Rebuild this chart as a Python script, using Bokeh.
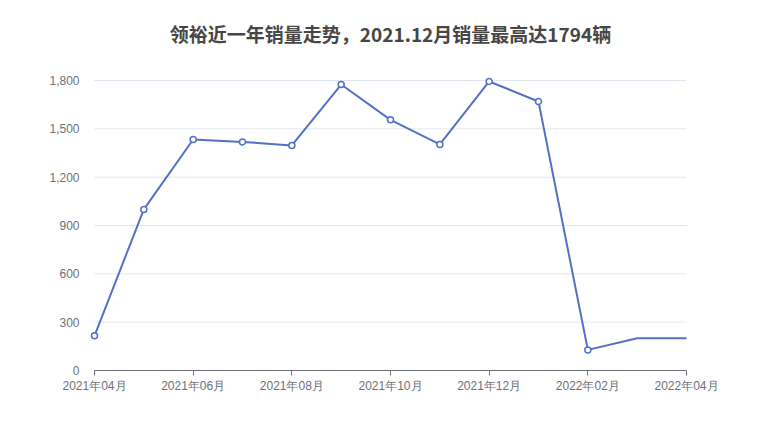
from bokeh.plotting import figure
from bokeh.models import Range1d, FixedTicker, Label
from bokeh.embed import file_html
from bokeh.resources import INLINE

months = ["2021年04月", "2021年05月", "2021年06月", "2021年07月", "2021年08月",
          "2021年09月", "2021年10月", "2021年11月", "2021年12月", "2022年01月",
          "2022年02月", "2022年03月", "2022年04月"]
sales = [215, 1000, 1434, 1419, 1397, 1775, 1556, 1403, 1794, 1670, 128, 200, 200]
y_ticks = [0, 300, 600, 900, 1200, 1500, 1800]
x_tick_idx = [0, 2, 4, 6, 8, 10, 12]
title_text = "领裕近一年销量走势，2021.12月销量最高达1794辆"

xs = list(range(len(months)))
color = "#5470c6"
label_color = "#6e7079"

# frame spans the full canvas height down to the x axis, so the title can sit inside it
p = figure(width=780, height=440, output_backend="svg", toolbar_location=None,
           x_range=Range1d(-0.10135, 12.10135), y_range=Range1d(0, 2296.6),
           min_border_left=89, min_border_right=89, min_border_top=0,
           min_border_bottom=70)
p.outline_line_color = None
p.background_fill_color = "white"
p.border_fill_color = "white"

title = Label(x=301, y=337, x_units="screen", y_units="screen", text=title_text,
              text_align="center", text_baseline="middle",
              text_font="Noto Sans CJK SC", text_font_style="bold",
              text_font_size="19px", text_color="#464646")
p.add_layout(title)

p.xgrid.visible = False
p.ygrid.visible = False

# horizontal grid lines
p.segment(x0=[xs[0]] * len(y_ticks), x1=[xs[-1]] * len(y_ticks),
          y0=y_ticks, y1=y_ticks, line_color="#e0e6f1", line_width=1)

p.line(xs, sales, line_color=color, line_width=2)
p.scatter(xs[:11], sales[:11], size=6, marker="circle", fill_color="white",
          line_color=color, line_width=1.5)

xa = p.xaxis[0]
xa.ticker = FixedTicker(ticks=x_tick_idx, minor_ticks=[])
xa.major_label_overrides = {i: months[i] for i in x_tick_idx}
xa.bounds = (xs[0], xs[-1])
xa.axis_line_color = label_color
xa.major_tick_line_color = label_color
xa.major_tick_in = 0
xa.major_tick_out = 5
xa.minor_tick_line_color = None
xa.major_label_text_color = label_color
xa.major_label_text_font = "Liberation Sans"
xa.major_label_text_font_size = "12px"
xa.major_label_standoff = 3

ya = p.yaxis[0]
ya.ticker = FixedTicker(ticks=y_ticks, minor_ticks=[])
ya.major_label_overrides = {v: f"{v:,}" for v in y_ticks}
ya.axis_line_color = None
ya.major_tick_line_color = None
ya.minor_tick_line_color = None
ya.major_label_text_color = label_color
ya.major_label_text_font = "Liberation Sans"
ya.major_label_text_font_size = "12px"
ya.major_label_standoff = 4

open("out.html", "w").write(file_html(p, INLINE))
